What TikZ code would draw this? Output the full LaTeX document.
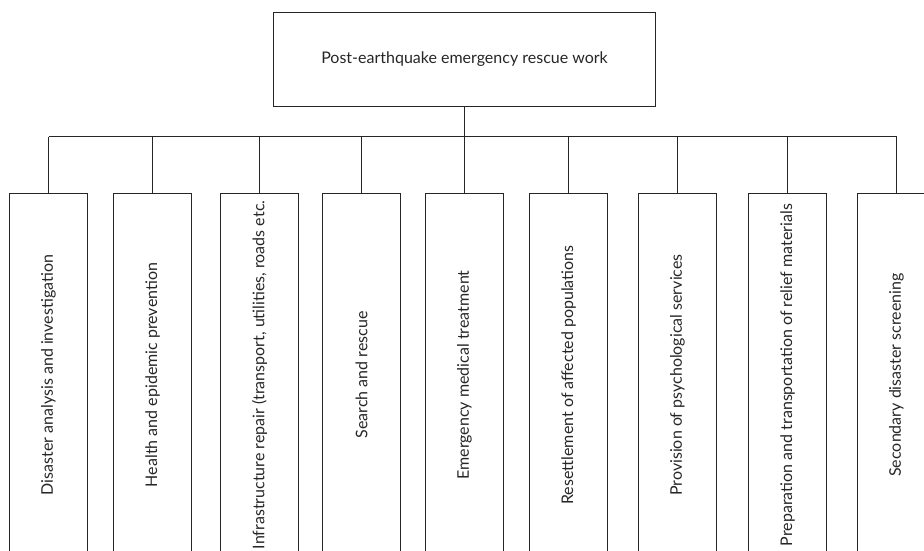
\documentclass[tikz,border=0pt]{standalone}
\usepackage{fontspec}
\setmainfont{Lato}
\begin{document}
\begin{tikzpicture}[x=1pt,y=-1pt,
  line width=1.1pt,
  every node/.style={draw=black!85, line width=1.1pt, inner sep=0pt, text=black!85},
  rootbox/.style={minimum width=382pt, minimum height=94pt, font=\fontsize{16}{19}\selectfont},
  leafbox/.style={minimum width=78pt, minimum height=363pt, font=\fontsize{16}{19}\selectfont},
  wire/.style={draw=black!85, line width=1.1pt}]
\useasboundingbox (0,0) rectangle (924,551);
\clip (0,0) rectangle (924,551);

% root of the tree
\node[rootbox] (root) at (464.5,59.5) {Post-earthquake emergency rescue work};

% the nine work areas
\node[leafbox] (b1) at (48.5,375)  {\rotatebox{90}{Disaster analysis and investigation}};
\node[leafbox] (b2) at (152.5,375) {\rotatebox{90}{Health and epidemic prevention}};
\node[leafbox] (b3) at (259.5,375) {\rotatebox{90}{Infrastructure repair (transport, utilities, roads etc.}};
\node[leafbox] (b4) at (361.5,375) {\rotatebox{90}{Search and rescue}};
\node[leafbox] (b5) at (464.5,375) {\rotatebox{90}{Emergency medical treatment}};
\node[leafbox] (b6) at (568.5,375) {\rotatebox{90}{Resettlement of affected populations}};
\node[leafbox] (b7) at (677.5,375) {\rotatebox{90}{Provision of psychological services}};
\node[leafbox] (b8) at (787.5,375) {\rotatebox{90}{Preparation and transportation of relief materials}};
\node[leafbox] (b9) at (896.5,375) {\rotatebox{90}{Secondary disaster screening}};

% bus line joining the root to every box
\coordinate (busL) at (48.5,136.5);
\coordinate (busR) at (896.5,136.5);
\draw[wire] (root.south) -- (root.south |- busL);
\draw[wire] (busL) -- (busR);
\foreach \b in {b1,b2,b3,b4,b5,b6,b7,b8,b9}
  \draw[wire] (\b.north |- busL) -- (\b.north);
\end{tikzpicture}
\end{document}
